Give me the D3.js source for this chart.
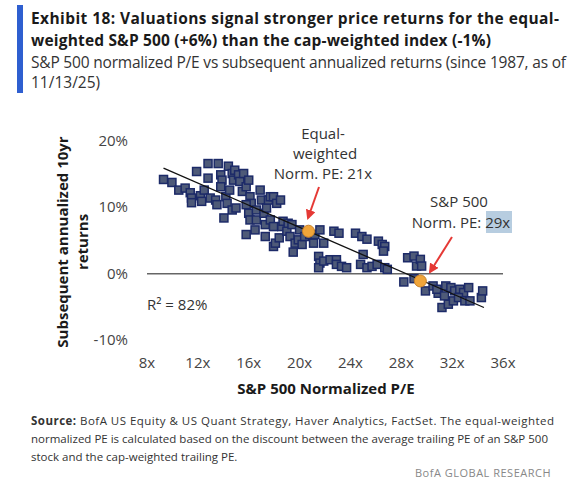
<!DOCTYPE html><html><head><meta charset="utf-8"><script src="https://cdn.jsdelivr.net/npm/d3@7"></script>
<style>body{margin:0;background:#fff;font-family:"Open Sans",Arial,sans-serif}</style></head><body><svg id="c" width="586" height="480"></svg>
<script>
const xTicks=[8,12,16,20,24,28,32,36];
const yTicks=[20,10,0,-10];
const peValues=[9.3,9.96,10.5,11.0,11.4,11.5,11.5,11.9,12.2,12.5,12.3,12.8,12.8,12.97,13.4,13.5,13.6,13.8,13.9,13.8,14.2,14.3,14.05,14.4,14.7,14.8,14.5,14.7,15.0,14.9,15.2,15.3,15.5,15.6,15.8,16.0,16.1,16.2,15.8,16.0,16.1,15.8,16.5,16.6,16.6,16.9,17.0,17.2,17.3,17.3,17.4,17.55,17.7,17.95,18.2,18.5,17.95,18.1,17.7,17.95,18.4,18.6,18.7,19.0,19.1,19.25,19.4,19.5,19.65,19.9,20.0,20.2,20.4,20.8,21.1,21.2,21.6,21.9,21.5,21.6,21.5,21.9,22.4,22.9,22.7,23.1,22.9,23.3,23.7,24.4,24.9,25.3,25.0,24.8,25.3,25.7,26.1,26.2,26.5,26.7,26.6,26.7,26.9,28.2,28.5,29.0,29.2,29.5,29.6,29.0,29.9,30.5,30.9,31.5,31.9,32.2,32.6,32.9,33.3,31.2,31.7,32.1,32.5,33.0,33.4,34.3,34.4,30.8,31.4];
const returnValues=[14.2,13.75,12.6,12.9,12.2,11.4,10.7,15.4,11.75,12.6,10.9,16.6,14.4,11.4,11.1,10.4,16.6,14.9,14.1,13.1,11.6,10.6,8.4,16.2,15.1,14.1,12.6,9.6,9.9,15.6,14.9,13.9,12.4,15.1,13.1,14.1,11.6,10.6,10.4,9.1,8.1,5.9,6.6,8.1,9.6,12.6,11.1,9.1,5.6,7.4,9.9,11.1,11.6,11.6,10.6,11.1,4.1,4.6,8.1,7.1,5.4,7.1,7.9,6.4,7.6,5.6,7.4,3.25,4.6,5.1,6.6,4.4,5.6,5.9,4.6,5.9,6.6,4.6,2.6,1.6,0.9,1.9,2.1,2.1,6.4,6.1,1.4,1.1,0.9,6.1,5.6,5.2,2.9,1.4,0.9,1.1,1.4,4.9,4.4,4.1,3.4,0.9,0.65,-1.25,2.4,2.65,1.15,2.15,1.15,-0.75,-2.6,-1.85,-2.95,-1.85,-2.1,-2.6,-2.35,-2.85,-2.1,-5.1,-4.6,-4.1,-3.6,-4.1,-4.1,-3.6,-2.6,-2.35,-3.35];
const highlightPE=[20.7,29.5];
const highlightRet=[6.4,-1.1];
const trendPE=[9.3,34.5];
const trendRet=[15.9,-5.1];

const svg=d3.select("#c");
const x=d3.scaleLinear().domain([8,36]).range([147,503]);
const y=d3.scaleLinear().domain([-10,20]).range([340,141]);
svg.append("rect").attr("x",17).attr("y",5).attr("width",6).attr("height",88).attr("fill","#2f5fd0");
const tl=[["Exhibit 18: Valuations signal stronger price returns for the equal-",24,"bold",528],["weighted S&P 500 (+6%) than the cap-weighted index (-1%)",46,"bold",460],["S&P 500 normalized P/E vs subsequent annualized returns (since 1987, as of",68,"normal",535],["11/13/25)",88,"normal",null]];
tl.forEach(t=>svg.append("text").attr("x",31).attr("y",t[1]).attr("font-size",15.5).attr("font-weight",t[2]).attr("fill",t[2]=="bold"?"#1a1a1a":"#333").attr("textLength",t[3]).text(t[0]));
const g=svg.append("g").attr("font-size",15);
g.selectAll(".yt").data(yTicks).join("text").attr("x",128).attr("y",d=>y(d)+5).attr("text-anchor","end").attr("fill","#444").text(d=>d+"%");
g.selectAll(".xt").data(xTicks).join("text").attr("x",d=>x(d)).attr("y",368).attr("text-anchor","middle").attr("fill","#444").text(d=>d+"x");
svg.append("line").attr("x1",x(8)).attr("x2",x(36)).attr("y1",y(0)).attr("y2",y(0)).attr("stroke","#666").attr("stroke-width",1.5);
svg.selectAll(".p").data(peValues.map((v,i)=>[v,returnValues[i]])).join("rect")
 .attr("x",d=>x(d[0])-4).attr("y",d=>y(d[1])-4).attr("width",8).attr("height",8)
 .attr("fill","#4e5a78").attr("stroke","#1c2a68").attr("stroke-width",1.5);
svg.append("line").attr("x1",x(trendPE[0])).attr("y1",y(trendRet[0])).attr("x2",x(trendPE[1])).attr("y2",y(trendRet[1])).attr("stroke","#111").attr("stroke-width",1.3);
svg.selectAll(".h").data(highlightPE.map((v,i)=>[v,highlightRet[i]])).join("circle")
 .attr("cx",d=>x(d[0])).attr("cy",d=>y(d[1])).attr("r",6).attr("fill","#f0a53a").attr("stroke","#c9812a");
const defs=svg.append("defs");
defs.append("marker").attr("id","ar").attr("viewBox","0 0 10 10").attr("refX",8).attr("refY",5).attr("markerWidth",5).attr("markerHeight",5).attr("orient","auto").append("path").attr("d","M0,0L10,5L0,10z").attr("fill","#e53935");
[[319,187,308,218],[452,237,430,272]].forEach(a=>svg.append("line").attr("x1",a[0]).attr("y1",a[1]).attr("x2",a[2]).attr("y2",a[3]).attr("stroke","#e53935").attr("stroke-width",2).attr("marker-end","url(#ar)"));
svg.append("rect").attr("x",486).attr("y",211).attr("width",26).attr("height",22).attr("fill","#b7cde0");
const an=[["Equal-",323,139],["weighted",325,159],["Norm. PE: 21x",323,179],["S&P 500",459,207],["Norm. PE: 29x",461,228]];
an.forEach(t=>svg.append("text").attr("x",t[1]).attr("y",t[2]).attr("text-anchor","middle").attr("font-size",15).attr("fill","#333").text(t[0]));
svg.append("text").attr("x",147).attr("y",310).attr("font-size",15).attr("fill","#333").text("R² = 82%");
svg.append("text").attr("transform","translate(68,242) rotate(-90)").attr("text-anchor","middle").attr("font-size",15).attr("font-weight","bold").attr("fill","#1a1a1a").text("Subsequent annualized 10yr");
svg.append("text").attr("transform","translate(88,242) rotate(-90)").attr("text-anchor","middle").attr("font-size",15).attr("font-weight","bold").attr("fill","#1a1a1a").text("returns");
svg.append("text").attr("x",326).attr("y",394).attr("text-anchor","middle").attr("font-size",15).attr("font-weight","bold").attr("fill","#1a1a1a").text("S&P 500 Normalized P/E");
const s=svg.append("g").attr("font-size",11.5).attr("fill","#333");
s.append("text").attr("x",31).attr("y",425).attr("textLength",523).html('<tspan font-weight="bold">Source:</tspan> BofA US Equity &amp; US Quant Strategy, Haver Analytics, FactSet. The equal-weighted');
s.append("text").attr("x",31).attr("y",443).attr("textLength",517).text("normalized PE is calculated based on the discount between the average trailing PE of an S&P 500");
s.append("text").attr("x",31).attr("y",461).text("stock and the cap-weighted trailing PE.");
svg.append("text").attr("x",415).attr("y",477).attr("font-size",11).attr("fill","#888").attr("letter-spacing",0.5).text("BofA GLOBAL RESEARCH");
</script></body></html>
